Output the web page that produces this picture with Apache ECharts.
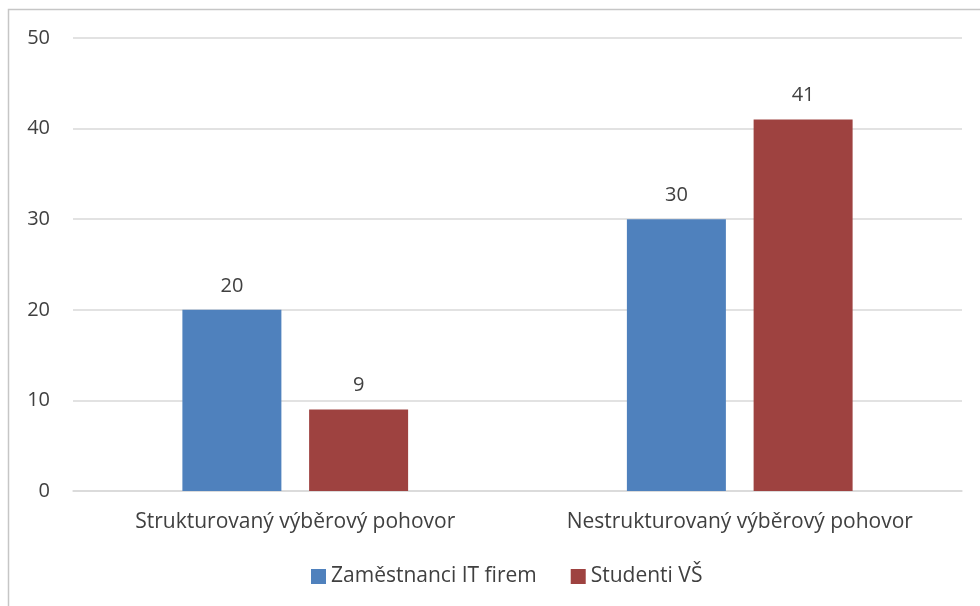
<!DOCTYPE html>
<html>
<head>
<meta charset="utf-8">
<script src="https://cdn.jsdelivr.net/npm/echarts@6/dist/echarts.min.js"></script>
<style>
  html, body { margin: 0; padding: 0; background: #fff; }
  #chart { width: 980px; height: 606px; }
</style>
</head>
<body>
<div id="chart"></div>
<script>
const categories = ['Strukturovaný výběrový pohovor', 'Nestrukturovaný výběrový pohovor'];
const seriesNames = ['Zaměstnanci IT firem', 'Studenti VŠ'];
const employees = [20, 30];
const students = [9, 41];
const yTicks = { min: 0, max: 50, interval: 10 };

const FONT = '"Open Sans", "Noto Sans", sans-serif';
const TEXT = '#404040';
const chart = echarts.init(document.getElementById('chart'), null, { renderer: 'canvas' });

const labelStyle = {
  show: true,
  position: 'top',
  distance: 14,
  color: TEXT,
  fontSize: 20,
  fontFamily: FONT
};

chart.setOption({
  animation: false,
  backgroundColor: '#ffffff',
  graphic: [{
    type: 'rect',
    shape: { x: 8.5, y: 9.5, width: 1000, height: 1000 },
    style: { fill: 'none', stroke: '#c6c6c6', lineWidth: 1.5 },
    silent: true
  }],
  legend: {
    bottom: 14,
    left: 306,
    itemWidth: 15,
    itemHeight: 15,
    itemGap: 34,
    icon: 'rect',
    textStyle: { color: TEXT, fontSize: 21, fontFamily: FONT },
    data: seriesNames
  },
  grid: { left: 73, right: 18, top: 38, bottom: 115, containLabel: false },
  xAxis: {
    type: 'category',
    data: categories,
    axisTick: { show: false },
    axisLine: { show: true, lineStyle: { color: '#d9d9d9', width: 1.5 } },
    axisLabel: { interval: 0, hideOverlap: false, color: TEXT, fontSize: 21, fontFamily: FONT, margin: 21 }
  },
  yAxis: {
    type: 'value',
    min: yTicks.min,
    max: yTicks.max,
    interval: yTicks.interval,
    axisLine: { show: false },
    axisTick: { show: false },
    splitLine: { lineStyle: { color: '#d9d9d9', width: 1.5 } },
    axisLabel: { color: TEXT, fontSize: 20, fontFamily: FONT, margin: 23 }
  },
  series: [
    {
      name: seriesNames[0],
      type: 'bar',
      data: employees,
      barWidth: 99,
      barGap: '28%',
      itemStyle: { color: '#4f81bd' },
      label: labelStyle
    },
    {
      name: seriesNames[1],
      type: 'bar',
      data: students,
      barWidth: 99,
      barGap: '28%',
      itemStyle: { color: '#9e4240' },
      label: labelStyle
    }
  ]
});
</script>
</body>
</html>
